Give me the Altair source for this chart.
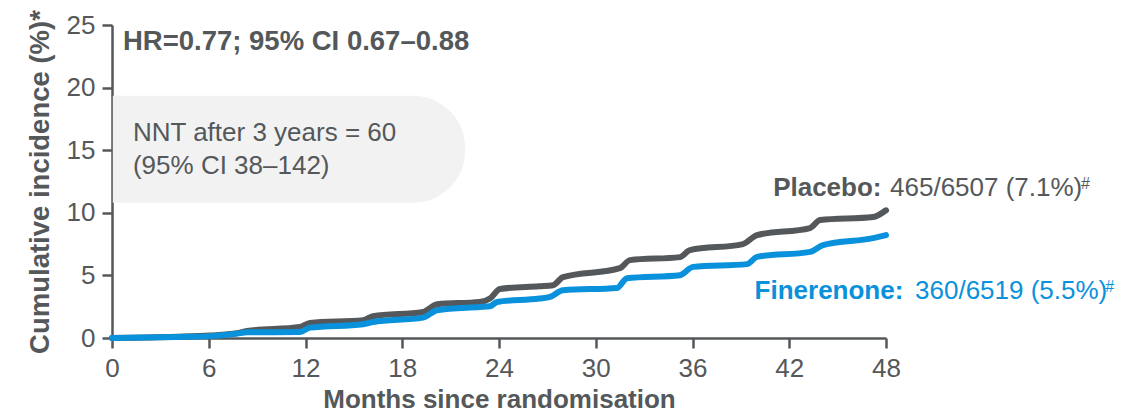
import altair as alt
import pandas as pd

# ---- data ----
placebo_months = [0, 4, 6.08, 7.75, 8.37, 11.66, 12.28, 15.57, 16.19, 19.29, 20.16, 22.8, 23.44,
                  24.06, 26.5, 27.35, 27.97, 31.5, 32.12, 35.22, 35.84, 39.13, 40.0, 43.29,
                  43.91, 47.2, 48.0]
placebo_values = [0.0, 0.1, 0.2, 0.38, 0.56, 0.88, 1.2, 1.42, 1.74, 2.08, 2.7, 2.88, 3.15,
                  3.92, 4.14, 4.22, 4.86, 5.58, 6.22, 6.46, 7.02, 7.5, 8.22, 8.78,
                  9.42, 9.66, 10.2]

finer_months = [0, 4, 6.08, 7.75, 8.37, 11.66, 12.28, 15.57, 16.19, 19.29, 20.16, 22.8, 23.44,
                23.88, 26.5, 27.16, 27.97, 31.32, 31.94, 35.22, 36.03, 39.38, 40.0, 43.29,
                44.09, 47.2, 48.0]
finer_values = [0.0, 0.08, 0.15, 0.35, 0.45, 0.48, 0.83, 1.1, 1.28, 1.63, 2.22, 2.48, 2.54,
                2.88, 3.15, 3.28, 3.82, 4.0, 4.78, 5.02, 5.68, 5.9, 6.48, 6.88,
                7.42, 7.98, 8.22]

x_ticks = [0, 6, 12, 18, 24, 30, 36, 42, 48]
y_ticks = [0, 5, 10, 15, 20, 25]

hr_text = "HR=0.77; 95% CI 0.67–0.88"
nnt_lines = ["NNT after 3 years = 60", "(95% CI 38–142)"]
placebo_bold, placebo_reg = "Placebo:", "465/6507 (7.1%)"
finer_bold, finer_reg = "Finerenone:", "360/6519 (5.5%)"
sup = "#"

GRAY = "#54585a"
BLUE = "#0a91db"
FONT = "Liberation Sans"

df_p = pd.DataFrame({"m": placebo_months, "v": placebo_values})
df_f = pd.DataFrame({"m": finer_months, "v": finer_values})

xs = alt.Scale(domain=[0, 48], nice=False, zero=False)
ys = alt.Scale(domain=[0, 25], nice=False)

x_axis = alt.Axis(values=x_ticks, title="Months since randomisation", grid=False,
                  labelFont=FONT, labelFontSize=26, labelColor=GRAY, labelPadding=7,
                  labelFlush=False,
                  titleFont=FONT, titleFontSize=26, titleFontWeight="bold", titleColor=GRAY,
                  titlePadding=5, domainColor=GRAY, domainWidth=2.5, tickColor=GRAY,
                  tickWidth=2.5, tickSize=10)
y_axis = alt.Axis(values=y_ticks, title="Cumulative incidence (%)*", grid=False,
                  labelFont=FONT, labelFontSize=26, labelColor=GRAY, labelPadding=7,
                  labelFlush=False,
                  titleFont=FONT, titleFontSize=27.5, titleFontWeight="bold", titleColor=GRAY,
                  titlePadding=12, domainColor=GRAY, domainWidth=2.5, tickColor=GRAY,
                  tickWidth=2.5, tickSize=10)

box_df = pd.DataFrame({"x": [0.05], "x2": [21.9], "y": [10.8], "y2": [19.35]})
box = alt.Chart(box_df).mark_rect(
    color="#f2f2f2", cornerRadiusTopRight=52, cornerRadiusBottomRight=52
).encode(x=alt.X("x:Q", scale=xs, axis=x_axis), x2="x2:Q",
         y=alt.Y("y:Q", scale=ys, axis=y_axis), y2="y2:Q")

line_p = alt.Chart(df_p).mark_line(color=GRAY, strokeWidth=6, interpolate="monotone",
                                   strokeCap="round").encode(
    x=alt.X("m:Q", scale=xs), y=alt.Y("v:Q", scale=ys))
line_f = alt.Chart(df_f).mark_line(color=BLUE, strokeWidth=6, interpolate="monotone",
                                   strokeCap="round").encode(
    x=alt.X("m:Q", scale=xs), y=alt.Y("v:Q", scale=ys))


def txt(rows, size, weight, color):
    d = pd.DataFrame(rows, columns=["x", "y", "t"])
    return alt.Chart(d).mark_text(align="left", baseline="alphabetic", font=FONT,
                                  fontSize=size, fontWeight=weight, color=color).encode(
        x=alt.X("x:Q", scale=xs), y=alt.Y("y:Q", scale=ys), text="t:N")


t_hr = txt([[0.68, 23.0, hr_text]], 27.5, "bold", GRAY)
t_nnt = txt([[1.3, 15.7, nnt_lines[0]], [1.3, 13.1, nnt_lines[1]]], 26, "normal", GRAY)
t_pb = txt([[41.0, 11.35, placebo_bold]], 26, "bold", GRAY)
t_pr = txt([[48.25, 11.35, placebo_reg]], 26, "normal", GRAY)
t_ps = txt([[60.1, 11.9, sup]], 16, "normal", GRAY)
t_fb = txt([[39.85, 3.15, finer_bold]], 26, "bold", BLUE)
t_fr = txt([[49.8, 3.15, finer_reg]], 26, "normal", BLUE)
t_fs = txt([[61.6, 3.7, sup]], 16, "normal", BLUE)

chart = alt.layer(box, line_p, line_f, t_hr, t_nnt, t_pb, t_pr, t_ps, t_fb, t_fr, t_fs).properties(
    width=774, height=313,
    autosize=alt.AutoSizeParams(type="none"),
    padding={"left": 104, "top": 17, "right": 250, "bottom": 73},
).configure_view(stroke=None)

chart.save("out.html", embed_options={"renderer": "svg", "actions": False})
